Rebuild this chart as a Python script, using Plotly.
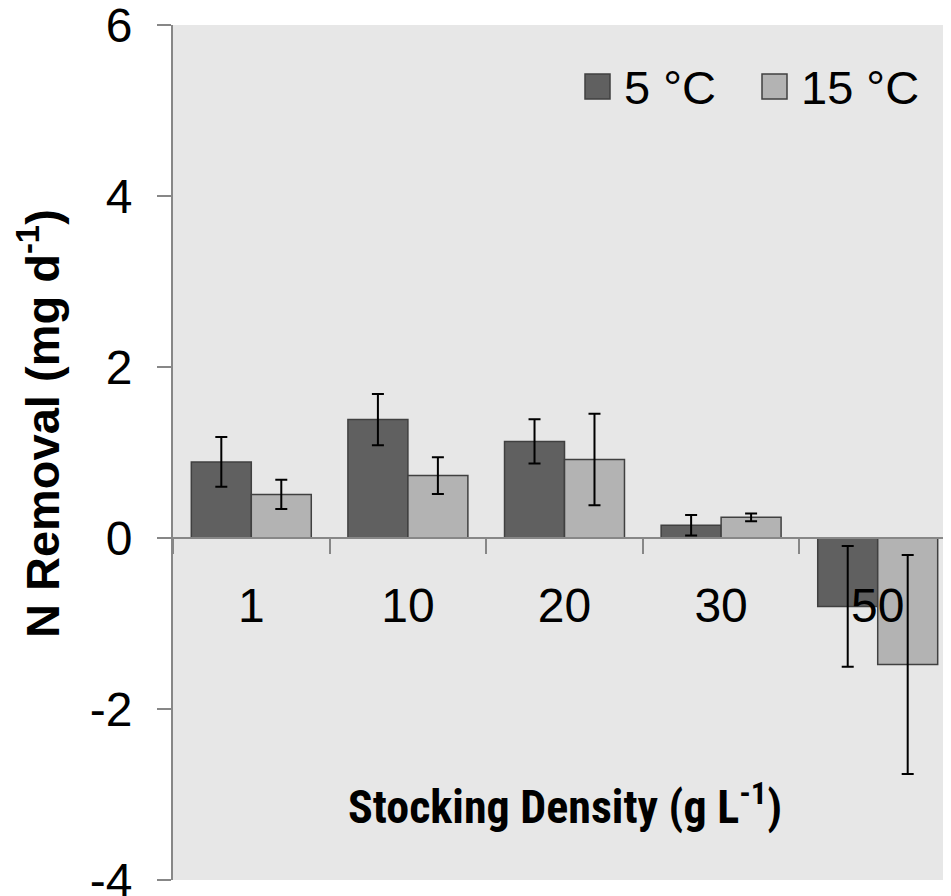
import plotly.graph_objects as go

categories = ["1", "10", "20", "30", "50"]
t5_values = [0.89, 1.385, 1.13, 0.148, -0.80]
t5_errors = [0.29, 0.30, 0.26, 0.12, 0.705]
t15_values = [0.51, 0.73, 0.917, 0.242, -1.48]
t15_errors = [0.17, 0.215, 0.535, 0.045, 1.28]
series_names = ["5 °C", "15 °C"]
y_ticks = [-4, -2, 0, 2, 4, 6]

DARK = "#606060"
LIGHT = "#b3b3b3"
EDGE = "#404040"
AXIS = "#878787"
FONT = "Liberation Sans, Arial, sans-serif"
NARROW = "Roboto Condensed, Liberation Sans Narrow, Arial Narrow, Liberation Sans, sans-serif"

fig = go.Figure()
for name, vals, errs, col in [(series_names[0], t5_values, t5_errors, DARK),
                               (series_names[1], t15_values, t15_errors, LIGHT)]:
    fig.add_trace(go.Bar(
        x=categories, y=vals, name=name,
        marker=dict(color=col, line=dict(color=EDGE, width=1.5)),
        error_y=dict(type="data", array=errs, visible=True,
                     color="black", thickness=2, width=6),
        showlegend=False,
    ))

OFF = 8  # page body margin
W, H = 943, 888
L, R, T, B = 165, 0, 17, 16
pw, ph = W - L - R, H - T - B

def px(xp):
    return (xp - OFF - L) / pw

def py(yp):
    return (H + OFF - B - yp) / ph

# custom legend
legend_items = [(series_names[0], DARK, 585, 622), (series_names[1], LIGHT, 762, 799)]
for name, col, sx, tx in legend_items:
    fig.add_shape(type="rect", xref="paper", yref="paper",
                  x0=px(sx), x1=px(sx + 25), y0=py(99), y1=py(74),
                  fillcolor=col, line=dict(color=EDGE, width=1.5))
    fig.add_annotation(xref="paper", yref="paper", x=px(tx), y=py(87),
                       xanchor="left", yanchor="middle", text=name, showarrow=False,
                       font=dict(family=FONT, size=47, color="black"))

fig.add_annotation(xref="paper", yref="paper", x=px(565), y=py(804),
                   xanchor="center", yanchor="middle", showarrow=False,
                   text="<b>Stocking Density (g L<sup>-1</sup>)</b>",
                   font=dict(family=NARROW, size=46, color="black"))
fig.add_annotation(xref="paper", yref="paper", x=px(39), y=py(424),
                   xanchor="center", yanchor="middle", showarrow=False, textangle=-90,
                   text="<b>N Removal (mg d<sup>-1</sup>)</b>",
                   font=dict(family=FONT, size=47, color="black"))

fig.update_layout(
    width=W, height=H,
    margin=dict(l=L, r=R, t=T, b=B, pad=0, autoexpand=False),
    paper_bgcolor="white", plot_bgcolor="#e7e7e7",
    barmode="group", bargap=0.234, bargroupgap=0,
    font=dict(family=FONT, size=48, color="black"),
    xaxis=dict(type="category", categoryorder="array", categoryarray=categories,
               range=[-0.5, 4.468], anchor="free", position=0.4,
               showline=True, linecolor=AXIS, linewidth=2,
               ticks="outside", tickson="boundaries", ticklen=15, tickcolor=AXIS, tickwidth=1.5,
               ticklabelstandoff=25, ticklabeloverflow="allow", automargin=False,
               showgrid=False, zeroline=False,
               tickfont=dict(family=FONT, size=48, color="black")),
    yaxis=dict(range=[-4, 6], tickvals=y_ticks, ticktext=[str(v) for v in y_ticks],
               showline=True, linecolor=AXIS, linewidth=2,
               ticks="outside", ticklen=14, tickcolor=AXIS, tickwidth=1.5,
               ticklabelstandoff=15, ticklabeloverflow="allow", automargin=False,
               showgrid=False, zeroline=False,
               tickfont=dict(family=FONT, size=48, color="black")),
)

fig.write_html("out.html")
